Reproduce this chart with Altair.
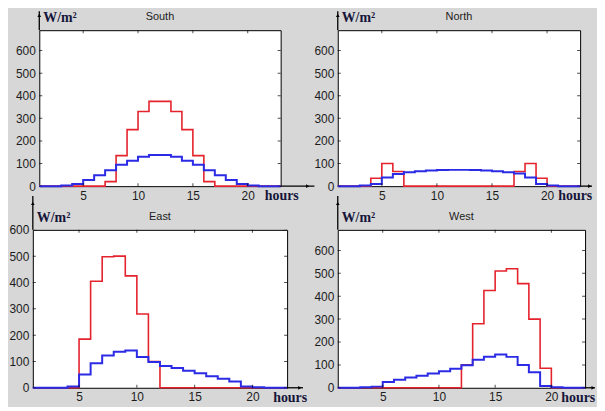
import altair as alt
import pandas as pd

# hourly bins starting at hour 1 .. 22 (last bin ends at 23)
hours = list(range(1, 23))

south_red = [0, 0, 0, 0, 0, 0, 20, 135, 250, 330, 375, 375, 330, 250, 135, 20, 0, 0, 0, 0, 0, 0]
south_blue = [0, 0, 3, 10, 27, 48, 70, 95, 112, 130, 138, 138, 130, 112, 95, 70, 48, 27, 10, 3, 0, 0]

north_red = [0, 0, 0, 35, 100, 65, 0, 0, 0, 0, 0, 0, 0, 0, 0, 0, 65, 100, 35, 0, 0, 0]
north_blue = [0, 0, 3, 10, 38, 54, 62, 66, 69, 71, 72, 72, 71, 69, 66, 62, 56, 38, 10, 3, 0, 0]

east_red = [0, 0, 0, 0, 185, 405, 498, 500, 425, 280, 100, 0, 0, 0, 0, 0, 0, 0, 0, 0, 0, 0]
east_blue = [0, 0, 0, 5, 50, 93, 123, 137, 142, 117, 98, 83, 75, 65, 55, 44, 34, 24, 5, 2, 0, 0]

west_red = [0, 0, 0, 0, 0, 0, 0, 0, 0, 0, 0, 100, 280, 425, 510, 520, 455, 300, 85, 0, 0, 0]
west_blue = [0, 0, 2, 5, 25, 35, 45, 53, 62, 72, 83, 98, 122, 136, 145, 135, 100, 68, 8, 2, 0, 0]

x_ticks = [5, 10, 15, 20]
y_ticks = [0, 100, 200, 300, 400, 500, 600]

RED = "#e4232d"
BLUE = "#2b2be6"
INK = "#15153a"


def step_frame(vals):
    return pd.DataFrame({"hour": hours + [23], "value": vals + [vals[-1]]})


def panel(name, red, blue, ymax, w, h, up_px, right_px, hours_dx):
    up_ext = up_px * ymax / h
    x_ext = right_px * 22.0 / w

    xs = alt.Scale(domain=[1, 23], nice=False, zero=False)
    ys = alt.Scale(domain=[0, ymax], nice=False)
    xenc = alt.X("hour:Q", scale=xs,
                 axis=alt.Axis(values=x_ticks, title=None, grid=False, domain=False,
                               ticks=False, labelPadding=4, format="d", labelOverlap=False))
    yenc = alt.Y("value:Q", scale=ys,
                 axis=alt.Axis(values=y_ticks, title=None, grid=False, domain=False,
                               ticks=False, labelPadding=4, format="d", labelOverlap=False))

    def base(df):
        return alt.Chart(df)

    red_l = base(step_frame(red)).mark_line(
        interpolate="step-after", color=RED, strokeWidth=1.6).encode(x=xenc, y=yenc)
    blue_l = base(step_frame(blue)).mark_line(
        interpolate="step-after", color=BLUE, strokeWidth=2.0).encode(x=xenc, y=yenc)

    # inward tick marks on all four sides (half of each tick is clipped away)
    tick_kw = dict(thickness=1, color="black", clip=True, size=6)
    top_t = base(pd.DataFrame({"hour": x_ticks, "value": [ymax] * 4})).mark_tick(
        orient="vertical", **tick_kw).encode(x=xenc, y=yenc)
    bot_t = base(pd.DataFrame({"hour": x_ticks, "value": [0] * 4})).mark_tick(
        orient="vertical", **tick_kw).encode(x=xenc, y=yenc)
    lft_t = base(pd.DataFrame({"hour": [1] * 7, "value": y_ticks})).mark_tick(
        orient="horizontal", **tick_kw).encode(x=xenc, y=yenc)
    rgt_t = base(pd.DataFrame({"hour": [23] * 7, "value": y_ticks})).mark_tick(
        orient="horizontal", **tick_kw).encode(x=xenc, y=yenc)

    # axis arrows
    up = base(pd.DataFrame({"hour": [1], "value": [ymax], "v2": [ymax + up_ext]})).mark_rule(
        color="black", strokeWidth=1.3, clip=False).encode(x=xenc, y=yenc, y2="v2:Q")
    up_head = base(pd.DataFrame({"hour": [1], "value": [ymax + up_ext * 0.78]})).mark_point(
        shape="triangle-up", filled=True, color="black", size=14, opacity=1, clip=False).encode(
        x=xenc, y=yenc)
    rt = base(pd.DataFrame({"hour": [23], "h2": [23 + x_ext], "value": [0]})).mark_rule(
        color="black", strokeWidth=1.3, clip=False).encode(x=xenc, x2="h2:Q", y=yenc)
    rt_head = base(pd.DataFrame({"hour": [23 + x_ext * 0.8], "value": [0]})).mark_point(
        shape="triangle-right", filled=True, color="black", size=14, opacity=1, clip=False).encode(
        x=xenc, y=yenc)

    unit = base(pd.DataFrame({"hour": [1], "value": [ymax], "t": ["W/m\u00b2"]})).mark_text(
        align="left", baseline="middle", dx=4, dy=-12, font="Liberation Serif", fontSize=14,
        fontWeight="bold", color=INK).encode(x=xenc, y=yenc, text="t:N")
    hrs = base(pd.DataFrame({"hour": [23], "value": [0], "t": ["hours"]})).mark_text(
        align="left", baseline="middle", dx=hours_dx, dy=10, font="Liberation Serif", fontSize=14,
        fontWeight="bold", color=INK).encode(x=xenc, y=yenc, text="t:N")
    ttl = base(pd.DataFrame({"hour": [12], "value": [ymax], "t": [name]})).mark_text(
        align="center", baseline="middle", dy=-13, font="Liberation Sans", fontSize=11,
        color="#222222").encode(x=xenc, y=yenc, text="t:N")

    return alt.layer(red_l, blue_l, top_t, bot_t, lft_t, rgt_t, up, up_head, rt, rt_head,
                     unit, hrs, ttl).properties(width=w, height=h)


south = panel("South", south_red, south_blue, 690, 243, 157, 19, 34, -16)
north = panel("North", north_red, north_blue, 690, 244, 157, 19, 12, -22)
east = panel("East", east_red, east_blue, 600, 256, 159, 34, 16, -14)
west = panel("West", west_red, west_blue, 690, 249, 159, 34, 10, -24)

chart = alt.concat(
    south, north, east, west, columns=2,
    spacing=alt.RowColnumber(row=44, column=51),
    bounds="flush", center=True
).properties(
    background="#d7d7d7", padding=0
).configure_view(
    stroke="black", strokeWidth=1, fill="white"
).configure_axis(
    labelFont="Liberation Sans", labelFontSize=12, labelColor="#1c1c1c"
)

chart.save("out.html", embed_options={"renderer": "svg", "actions": False})
